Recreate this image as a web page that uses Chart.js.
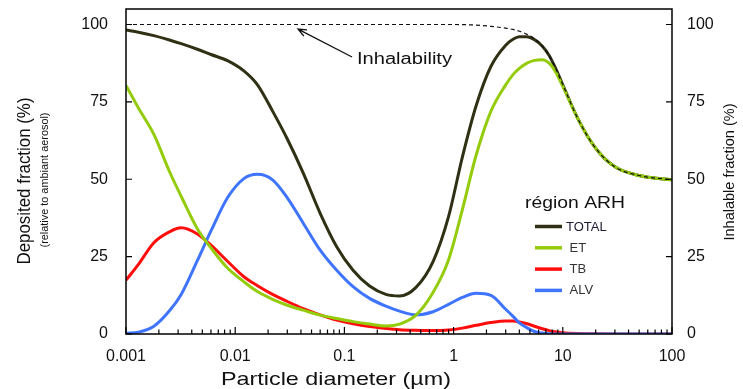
<!DOCTYPE html>
<html>
<head>
<meta charset="utf-8">
<script src="https://cdn.jsdelivr.net/npm/chart.js@4.4.1/dist/chart.umd.min.js"></script>
<style>
  html, body { margin: 0; padding: 0; background: #fff; }
  #wrap { width: 743px; height: 389px; }
</style>
</head>
<body>
<div id="wrap"><canvas id="depositionChart" width="743" height="389"></canvas></div>
<script>
// Particle diameter grid (µm) shared by every curve
const diameters = [0.001, 0.0013, 0.0018, 0.0025, 0.0032, 0.0045, 0.006, 0.0085, 0.012, 0.016,
  0.022, 0.03, 0.042, 0.06, 0.085, 0.12, 0.17, 0.24, 0.32, 0.45,
  0.65, 0.9, 1.2, 1.6, 2.2, 3, 3.5, 4, 4.7, 5.5,
  6.5, 7.5, 8.5, 10, 14, 20, 30, 50, 100];

const totalFraction = [98.2, 97.5, 96.4, 95, 93.8, 92, 90.3, 88.3, 85, 80.5,
  72, 63, 52, 39, 28.2, 20.6, 15.5, 12.8, 12.3, 15,
  23.5, 38, 57, 73.5, 86.5, 93.3, 95.2, 96, 96, 95.1,
  93, 90, 86.2, 80.5, 69, 60, 54, 51.2, 49.8];

const etFraction = [80.3, 73, 64.5, 52.5, 44.5, 34, 27.8, 21.3, 16.9, 13.7,
  11.2, 9.3, 7.7, 6.1, 5, 4, 3.2, 2.6, 3.2, 6,
  13.5, 24, 40, 57.5, 72, 80.5, 83.8, 85.8, 87.5, 88.4,
  88.6, 87.5, 85, 80, 69, 60, 54, 51.2, 49.8];

const tbFraction = [17.4, 22.5, 29.5, 33, 34.3, 32.3, 28.7, 23.5, 18.5, 15.6,
  12.8, 10.5, 8.2, 6.2, 4.5, 3.3, 2.4, 1.8, 1.4, 1.2,
  1.1, 1.3, 1.9, 2.8, 3.7, 4.2, 4.2, 3.9, 3.3, 2.5,
  1.7, 1.1, 0.7, 0.4, 0.15, 0.05, 0, 0, 0];

const alvFraction = [0.2, 0.6, 2.5, 7.5, 12.8, 23.7, 33.3, 44, 50.2, 51.6,
  49.8, 44, 35.8, 27.1, 20.6, 15.3, 11.5, 9, 7.4, 6.2,
  7.2, 9.6, 11.8, 13.2, 12.5, 8, 5.7, 3.6, 2, 0.8,
  0.3, 0.1, 0, 0, 0, 0, 0, 0, 0];

const inhalability = [100, 100, 100, 100, 100, 100, 100, 100, 100, 100,
  100, 100, 100, 100, 100, 100, 100, 100, 100, 100,
  100, 100, 99.95, 99.8, 99.4, 98.8, 98.4, 97.8, 96.8, 95.4,
  93, 90, 86.2, 80.5, 69, 60, 54, 51.2, 49.8];

const xMajorTicks = [0.001, 0.01, 0.1, 1, 10, 100];
const xTickLabels = ['0.001', '0.01', '0.1', '1', '10', '100'];
const yTicks = [0, 25, 50, 75, 100];
const yTickLabels = ['0', '25', '50', '75', '100'];

const legendTitle = 'région ARH';
const annotationText = 'Inhalability';

const FONT = "'Liberation Sans', Arial, sans-serif";
const TEXT_COLOR = '#111';

function toPoints(values) {
  return diameters.map((d, i) => ({ x: d, y: values[i] }));
}

function fitText(ctx, text, x, y, width, font, color, rotate, align) {
  ctx.save();
  ctx.font = font;
  ctx.fillStyle = color;
  ctx.textBaseline = 'middle';
  ctx.textAlign = align || 'center';
  const w = ctx.measureText(text).width;
  ctx.translate(x, y);
  if (rotate) ctx.rotate(-Math.PI / 2);
  ctx.scale(width / w, 1);
  ctx.fillText(text, 0, 0);
  ctx.restore();
}

// build every 1..9 x 10^n tick so the minor marks can be drawn
const xAllTicks = [];
xMajorTicks.forEach((major, i) => {
  if (i === xMajorTicks.length - 1) {
    xAllTicks.push(major);
    return;
  }
  for (let m = 1; m <= 9; m++) xAllTicks.push(major * m);
});

function noScalePadding(scale) {
  scale.paddingTop = 0;
  scale.paddingBottom = 0;
  scale.paddingLeft = 0;
  scale.paddingRight = 0;
}

const framePlugin = {
  id: 'framePlugin',
  afterDatasetsDraw(chart) {
    const { ctx, chartArea, scales } = chart;
    const x = scales.x;
    const y = scales.y;
    ctx.save();
    ctx.strokeStyle = '#000';
    ctx.lineWidth = 1.5;
    ctx.strokeRect(chartArea.left, chartArea.top, chartArea.right - chartArea.left, chartArea.bottom - chartArea.top);

    ctx.lineWidth = 1.2;
    ctx.beginPath();
    x.ticks.forEach((t) => {
      const px = x.getPixelForValue(t.value);
      const isMajor = xMajorTicks.some((m) => Math.abs(Math.log10(m) - Math.log10(t.value)) < 1e-6);
      const len = isMajor ? 7 : 4.5;
      ctx.moveTo(px, chartArea.bottom);
      ctx.lineTo(px, chartArea.bottom - len);
    });
    yTicks.forEach((v) => {
      const py = y.getPixelForValue(v);
      ctx.moveTo(chartArea.left, py);
      ctx.lineTo(chartArea.left + 6, py);
      ctx.moveTo(chartArea.right, py);
      ctx.lineTo(chartArea.right - 6, py);
    });
    ctx.stroke();
    ctx.restore();
  },
  afterDraw(chart) {
    const { ctx, scales } = chart;
    const x = scales.x;
    const y = scales.y;

    // axis titles
    fitText(ctx, 'Particle diameter (µm)', 336, 380, 230, `19px ${FONT}`, TEXT_COLOR);
    fitText(ctx, 'Deposited fraction (%)', 25, 181, 167, `18px ${FONT}`, TEXT_COLOR, true);
    fitText(ctx, '(relative to ambiant aerosol)', 45, 180, 135, `11px ${FONT}`, TEXT_COLOR, true);
    fitText(ctx, 'Inhalable fraction (%)', 730, 172, 137, `15px ${FONT}`, TEXT_COLOR, true);

    // inhalability annotation with arrow
    const tipX = x.getPixelForValue(0.0376);
    const tipY = y.getPixelForValue(98.5);
    const tailX = x.getPixelForValue(0.1175);
    const tailY = y.getPixelForValue(89.5);
    ctx.save();
    ctx.strokeStyle = '#111';
    ctx.lineWidth = 1.3;
    ctx.beginPath();
    ctx.moveTo(tailX, tailY);
    ctx.lineTo(tipX, tipY);
    const ang = Math.atan2(tipY - tailY, tipX - tailX);
    const head = 9;
    ctx.moveTo(tipX - head * Math.cos(ang - 0.4), tipY - head * Math.sin(ang - 0.4));
    ctx.lineTo(tipX, tipY);
    ctx.lineTo(tipX - head * Math.cos(ang + 0.4), tipY - head * Math.sin(ang + 0.4));
    ctx.stroke();
    ctx.restore();
    fitText(ctx, annotationText, x.getPixelForValue(0.1304), y.getPixelForValue(88.5), 95, `16px ${FONT}`, TEXT_COLOR, false, 'left');

    // legend
    fitText(ctx, legendTitle, 575, 203, 100, `17px ${FONT}`, TEXT_COLOR);
    const legendSets = chart.data.datasets.filter((ds) => ds.inLegend);
    legendSets.sort((a, b) => a.legendOrder - b.legendOrder);
    legendSets.forEach((ds, i) => {
      const ly = 226.5 + i * 21.3;
      ctx.save();
      ctx.strokeStyle = ds.borderColor;
      ctx.lineWidth = 3.5;
      ctx.beginPath();
      ctx.moveTo(535, ly);
      ctx.lineTo(562, ly);
      ctx.stroke();
      ctx.font = `13px ${FONT}`;
      ctx.fillStyle = i === 0 ? '#1a1a30' : '#333';
      ctx.textBaseline = 'middle';
      ctx.textAlign = 'left';
      ctx.fillText(ds.label, i === 0 ? 566 : 569.5, ly + 0.5);
      ctx.restore();
    });
  }
};

const ctx = document.getElementById('depositionChart');

new Chart(ctx, {
  type: 'line',
  data: {
    datasets: [
      {
        label: 'Inhalability',
        data: toPoints(inhalability),
        borderColor: '#111',
        borderWidth: 1.2,
        borderDash: [4, 3],
        inLegend: false
      },
      {
        label: 'ET',
        data: toPoints(etFraction),
        borderColor: '#94cc0c',
        borderWidth: 3,
        inLegend: true,
        legendOrder: 1
      },
      {
        label: 'ALV',
        data: toPoints(alvFraction),
        borderColor: '#3f74ff',
        borderWidth: 3,
        inLegend: true,
        legendOrder: 3
      },
      {
        label: 'TB',
        data: toPoints(tbFraction),
        borderColor: '#ff0d0d',
        borderWidth: 3,
        inLegend: true,
        legendOrder: 2
      },
      {
        label: 'TOTAL',
        data: toPoints(totalFraction),
        borderColor: '#303014',
        borderWidth: 3,
        inLegend: true,
        legendOrder: 0
      }
    ]
  },
  options: {
    responsive: false,
    animation: false,
    devicePixelRatio: 1,
    layout: { padding: { top: 9, left: 0, right: 0, bottom: 0 } },
    elements: {
      point: { radius: 0 },
      line: { cubicInterpolationMode: 'monotone', fill: false }
    },
    plugins: {
      legend: { display: false },
      tooltip: { enabled: false }
    },
    scales: {
      x: {
        type: 'logarithmic',
        min: 0.001,
        max: 100,
        grid: { display: false, drawTicks: false },
        border: { display: false },
        afterBuildTicks: (scale) => {
          scale.ticks = xAllTicks.map((v) => ({ value: v }));
        },
        afterFit: (scale) => { scale.height = 55; noScalePadding(scale); },
        ticks: {
          autoSkip: false,
          maxRotation: 0,
          padding: 13,
          color: TEXT_COLOR,
          font: { family: FONT, size: 16 },
          callback: (value) => {
            const idx = xMajorTicks.findIndex((m) => Math.abs(Math.log10(m) - Math.log10(value)) < 1e-6);
            return idx >= 0 ? xTickLabels[idx] : '';
          }
        }
      },
      y: {
        position: 'left',
        min: 0,
        max: 105,
        grid: { display: false, drawTicks: false },
        border: { display: false },
        afterBuildTicks: (scale) => {
          scale.ticks = yTicks.map((v) => ({ value: v }));
        },
        afterFit: (scale) => { scale.width = 126; noScalePadding(scale); },
        ticks: {
          padding: 18,
          color: TEXT_COLOR,
          font: { family: FONT, size: 16 },
          callback: (value) => yTickLabels[yTicks.indexOf(value)]
        }
      },
      y2: {
        position: 'right',
        min: 0,
        max: 105,
        grid: { display: false, drawTicks: false },
        border: { display: false },
        afterBuildTicks: (scale) => {
          scale.ticks = yTicks.map((v) => ({ value: v }));
        },
        afterFit: (scale) => { scale.width = 71; noScalePadding(scale); },
        ticks: {
          padding: 15,
          color: TEXT_COLOR,
          font: { family: FONT, size: 16 },
          callback: (value) => yTickLabels[yTicks.indexOf(value)]
        }
      }
    }
  },
  plugins: [framePlugin]
});
</script>
</body>
</html>
